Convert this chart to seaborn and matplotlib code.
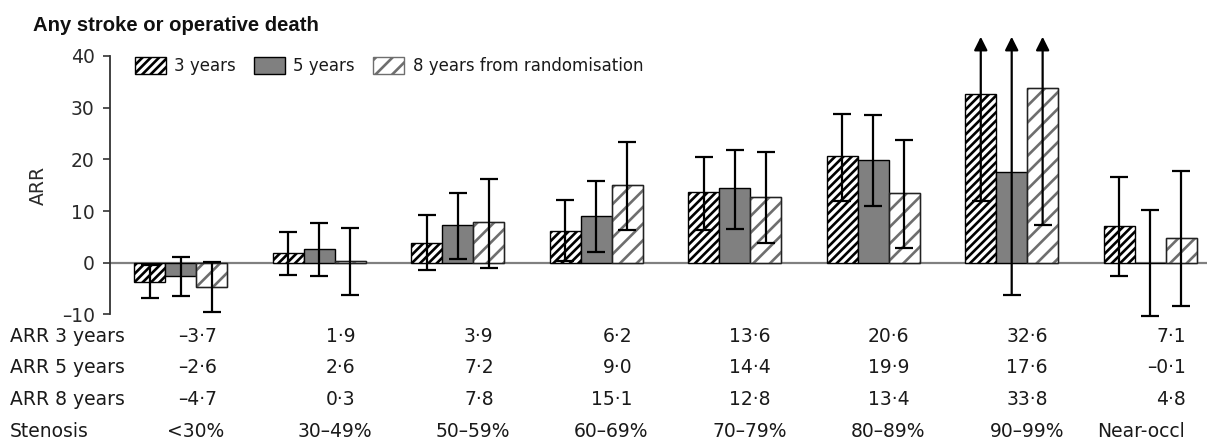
import numpy as np
import pandas as pd
import matplotlib
matplotlib.use("Agg")
import matplotlib.pyplot as plt
import matplotlib.transforms as mtransforms
from matplotlib.patches import Rectangle
import seaborn as sns

# ---------------- data ----------------
stenosis = ['<30%', '30–49%', '50–59%', '60–69%', '70–79%', '80–89%', '90–99%', 'Near-occl']
periods = ['3 years', '5 years', '8 years from randomisation']
row_labels = ['ARR 3 years', 'ARR 5 years', 'ARR 8 years', 'Stenosis']

arr_3 = [-3.7, 1.9, 3.9, 6.2, 13.6, 20.6, 32.6, 7.1]
arr_5 = [-2.6, 2.6, 7.2, 9.0, 14.4, 19.9, 17.6, -0.1]
arr_8 = [-4.7, 0.3, 7.8, 15.1, 12.8, 13.4, 33.8, 4.8]

lo_3 = [-6.9, -2.4, -1.4, 0.3, 6.4, 12.0, 12.0, -2.5]
hi_3 = [-0.5, 6.0, 9.2, 12.1, 20.5, 28.8, np.nan, 16.5]
lo_5 = [-6.4, -2.5, 0.7, 2.1, 6.6, 10.9, -6.2, -10.3]
hi_5 = [1.2, 7.7, 13.5, 15.8, 21.8, 28.5, np.nan, 10.1]
lo_8 = [-9.5, -6.2, -1.0, 6.3, 3.9, 2.9, 7.3, -8.4]
hi_8 = [0.2, 6.8, 16.2, 23.4, 21.4, 23.7, np.nan, 17.8]

yticks = [-10, 0, 10, 20, 30, 40]

values = [arr_3, arr_5, arr_8]
lows = [lo_3, lo_5, lo_8]
highs = [hi_3, hi_5, hi_8]

# ---------------- style ----------------
sns.set_style('white')
plt.rcParams['font.family'] = ['DejaVu Sans']
plt.rcParams['hatch.linewidth'] = 1.9
TXT = '#1a1a1a'

W, H = 1207, 441
fig = plt.figure(figsize=(W / 100, H / 100), dpi=100)
ax_top, ax_bot = 35.2, 319.6
ax = fig.add_axes([110 / W, 1 - ax_bot / H, (W - 110) / W, (ax_bot - ax_top) / H])

df = pd.DataFrame({
    'stenosis': np.repeat([stenosis], 3, axis=0).ravel(),
    'period': np.repeat(periods, len(stenosis)),
    'arr': np.concatenate(values),
})

sns.barplot(data=df, x='stenosis', y='arr', hue='period', order=stenosis,
            hue_order=periods, palette=['white', '#808080', 'white'],
            saturation=1, width=0.67, gap=0, errorbar=None, legend=False,
            edgecolor='black', linewidth=1, ax=ax, zorder=2)

conts = list(ax.containers)[:3]
# 3 years: dense black hatch
for p in conts[0]:
    p.set_hatch('////')
    p.set_edgecolor('black')
# 8 years: wide grey hatch + dark outline
for p in conts[2]:
    p.set_hatch('//')
    p.set_edgecolor('#6e6e6e')
    ax.add_patch(Rectangle(p.get_xy(), p.get_width(), p.get_height(), fill=False,
                           edgecolor='#222222', lw=1, zorder=2.1))

ax.set_xlim(-0.51, 7.41)
ax.set_ylim(-11, 44)
ax.axhline(0, color='#808080', lw=1.6, zorder=1.5)

# error bars
cap = 6.2
top = ax.get_ylim()[1] - 0.3
for ci, cont in enumerate(conts):
    xs = np.array([p.get_x() + p.get_width() / 2 for p in cont.patches])
    v = np.array(values[ci], float)
    lo = np.array(lows[ci], float)
    hi = np.array(highs[ci], float)
    closed = ~np.isnan(hi)
    ax.errorbar(xs[closed], v[closed], yerr=[v[closed] - lo[closed], hi[closed] - v[closed]],
                fmt='none', ecolor='black', elinewidth=1.6, capsize=cap, capthick=1.6, zorder=3)
    for x, l in zip(xs[~closed], lo[~closed]):
        ax.annotate('', xy=(x, top), xytext=(x, l),
                    arrowprops=dict(arrowstyle='-|>', color='black', lw=1.6,
                                    shrinkA=0, shrinkB=0, mutation_scale=20), zorder=3)
        ax.plot([x], [l], marker='_', ms=2 * cap, mew=1.6, color='black', zorder=3)

# axes styling
for s in ['top', 'right', 'bottom']:
    ax.spines[s].set_visible(False)
ax.spines['left'].set_bounds(yticks[0], yticks[-1])
ax.spines['left'].set_color('#333333')
ax.spines['left'].set_linewidth(1.3)
ax.set_yticks(yticks)
ax.set_yticklabels([('–' + str(-t)) if t < 0 else str(t) for t in yticks])
ax.tick_params(axis='y', direction='out', length=5, width=1.2, color='#333333',
               labelsize=13.5, labelcolor='#2a2a2a', pad=6, left=True)
ax.set_xticks([])
ax.set_xlabel('')
ax.set_ylabel('ARR', fontsize=13.5, color='#2a2a2a')
ax.yaxis.set_label_coords(-0.0565, 0.47)

# legend
handles = [conts[0].patches[0], conts[1].patches[0], conts[2].patches[0]]
ax.legend(handles, periods, loc='upper left', bbox_to_anchor=(135 / W, 1 - 57 / H),
          bbox_transform=fig.transFigure, ncol=3, frameon=False, fontsize=12,
          handlelength=1.85, handleheight=1.2, handletextpad=0.5, columnspacing=1.1,
          borderpad=0, borderaxespad=0, labelcolor=TXT)

# title
fig.text(33 / W, 1 - 31 / H, 'Any stroke or operative death', fontsize=14.6,
         fontweight='bold', family=['Liberation Sans', 'DejaVu Sans'], color='#111111',
         va='baseline')

# table below
tr = mtransforms.blended_transform_factory(ax.transData, fig.transFigure)
baselines = [341.7, 373.3, 405.0, 436.7]


def fmt(v):
    s = f"{abs(v):.1f}".replace('.', '·')
    return ('–' + s) if v < 0 else s


for r, lab in enumerate(row_labels):
    fig.text(10 / W, 1 - baselines[r] / H, lab, fontsize=13.5, color=TXT, va='baseline')
for r in range(3):
    for j, v in enumerate(values[r]):
        ax.text(j + 0.26, 1 - baselines[r] / H, fmt(v), transform=tr, ha='right',
                va='baseline', fontsize=13.5, color=TXT, clip_on=False)
for j, s in enumerate(stenosis):
    if j == len(stenosis) - 1:
        ax.text(j + 0.25, 1 - baselines[3] / H, s, transform=tr, ha='right',
                va='baseline', fontsize=13.5, color=TXT, clip_on=False)
    else:
        ax.text(j + 0.11, 1 - baselines[3] / H, s, transform=tr, ha='center',
                va='baseline', fontsize=13.5, color=TXT, clip_on=False)

fig.savefig('out.png', dpi=100)
